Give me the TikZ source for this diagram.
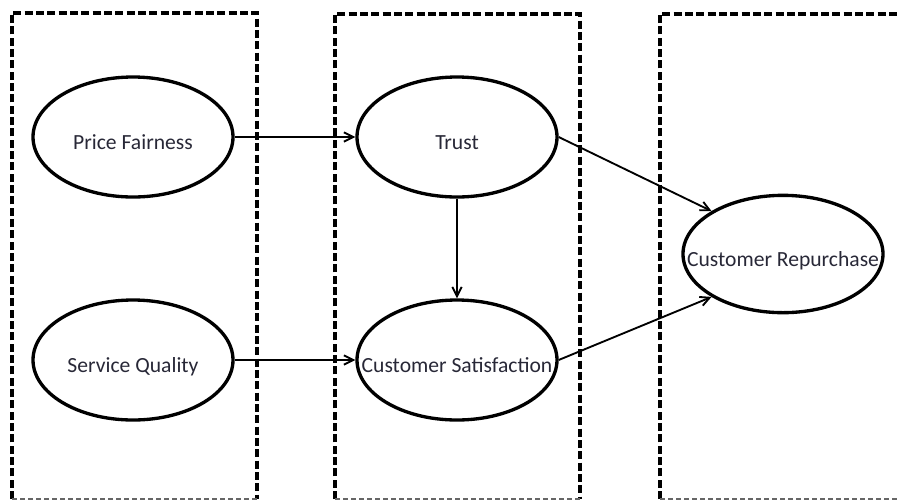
\documentclass[tikz,border=0pt]{standalone}
\usepackage{fontspec}
\setmainfont{Carlito}
\usetikzlibrary{arrows.meta,shapes.geometric}
\definecolor{labelgray}{RGB}{40,40,55}

\begin{document}
\begin{tikzpicture}[x=0.75pt, y=-0.75pt,
  construct/.style={ellipse, draw, line width=2.5pt, minimum width=150pt, minimum height=90pt, inner sep=0pt, text height=20pt, text depth=2pt, text=labelgray, font=\fontsize{16.2}{19}\selectfont},
  zone/.style={dash pattern=on 6pt off 2.5pt, line width=2.8pt},
  zonebase/.style={dash pattern=on 4pt off 2pt, line width=0.8pt, black!60},
  link/.style={-{Straight Barb[length=7pt, width=7pt]}, line width=1.4pt}]
\useasboundingbox (0, 0) rectangle (897, 501);

% dashed groups
\draw[zone] (12, 499) -- (12, 13) -- (257, 13) -- (257, 499);
\draw[zonebase] (12, 499) -- (257, 499);
\draw[zone] (335, 499) -- (335, 14) -- (580, 14) -- (580, 499);
\draw[zonebase] (335, 499) -- (580, 499);
\draw[zone] (660, 499) -- (660, 14) -- (910, 14);
\draw[zonebase] (660, 499) -- (910, 499);

\node (pf) at (133, 137) [construct] {Price Fairness};
\node (sq) at (133, 360) [construct] {Service Quality};

\node (tr) at (457, 137) [construct] {Trust};
\node (cs) at (457, 360) [construct] {\makebox[0pt]{Customer Satisfaction}};

\node (cr) at (783, 254) [construct, minimum height=88pt] {\makebox[0pt]{Customer Repurchase}};

\draw[link] (pf) -- (tr);
\draw[link] (sq) -- (cs);
\draw[link] (tr) -- (cs);
\draw[link] (tr.east) -- (cr.149);
\draw[link] (cs.east) -- (cr.211);
\end{tikzpicture}
\end{document}
